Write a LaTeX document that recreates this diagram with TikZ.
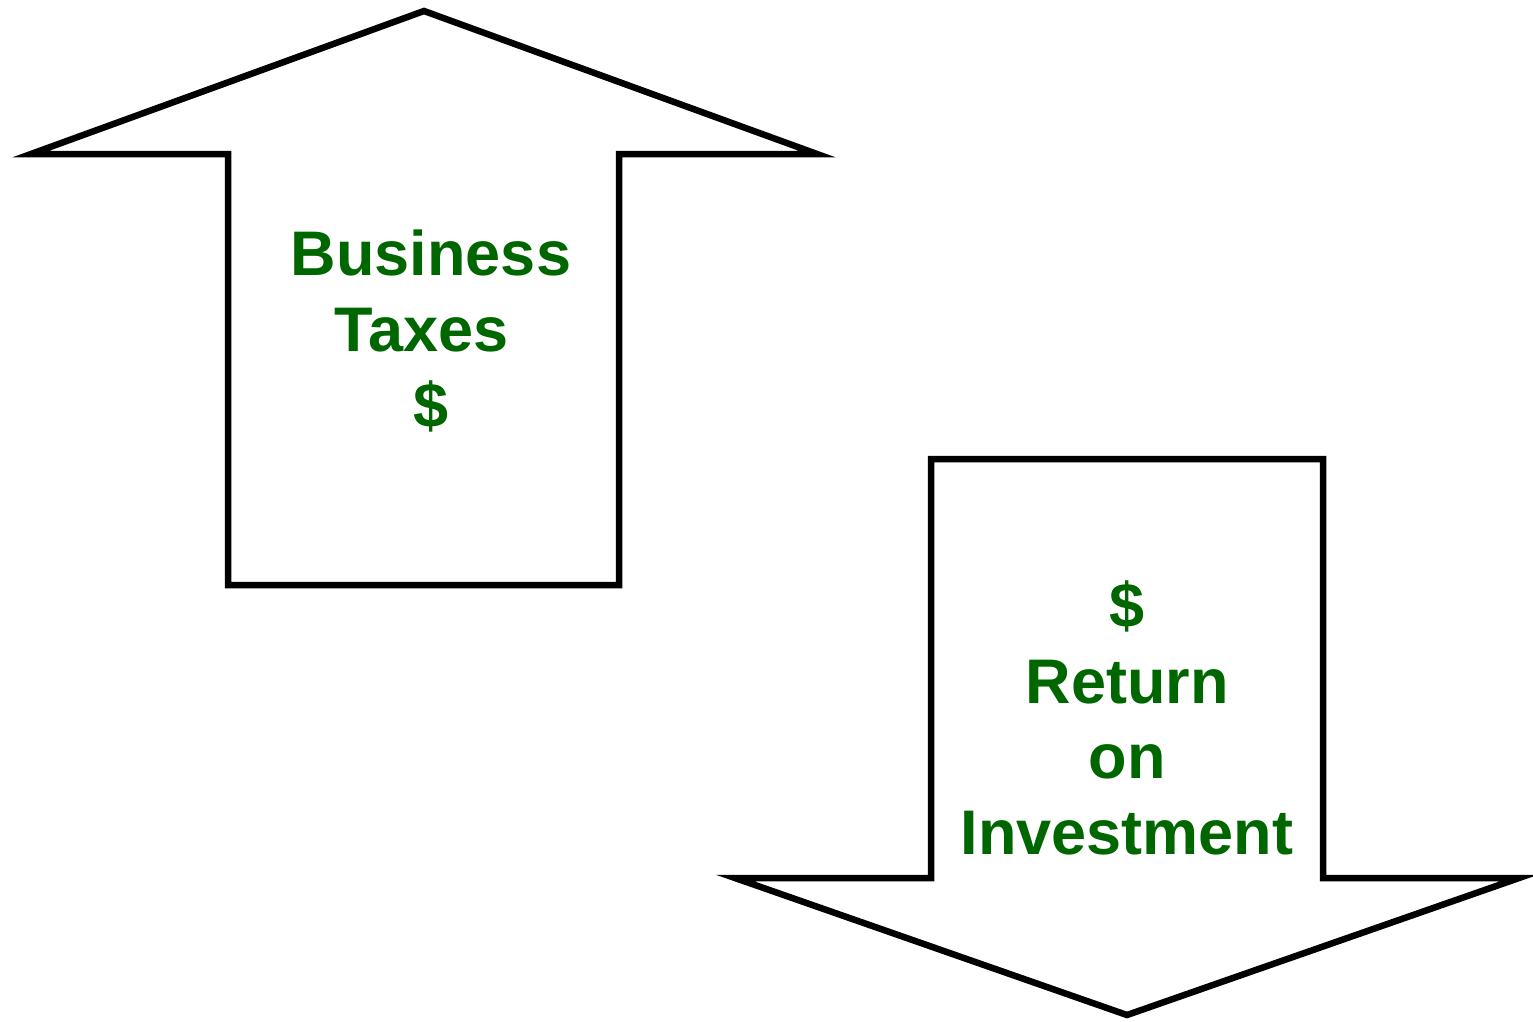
\documentclass[tikz,border=0pt]{standalone}
\usepackage{fontspec}
\setmainfont{Liberation Sans}
\usepackage{tikz}
\definecolor{moneygreen}{RGB}{0,102,0}
\tikzset{
    flowarrow/.style={line width=6.5pt,line join=miter,fill=white},
    flowlabel/.style={text=moneygreen,font=\bfseries\fontsize{63}{75.6}\selectfont,align=center,inner sep=0pt}
}

\begin{document}
\begin{tikzpicture}[x=1pt,y=-1pt]
\useasboundingbox (0,0) rectangle (1533,1021);
% taxes going up
\draw[flowarrow] (424,11)--(817,154)--(619,154)--(619,585)--(228,585)--(228,154)--(31,154)--cycle;
% return coming down
\draw[flowarrow] (931,459)--(1323,459)--(1323,878)--(1519,878)--(1127,1015)--(735,878)--(931,878)--cycle;

\node[flowlabel] (taxes) at (431,331) {Business\\Taxes\rule{0.3em}{0pt}\\\$};
\node[flowlabel] (roi) at (1127,718) {\$\\Return\\on\\Investment};
\end{tikzpicture}
\end{document}
